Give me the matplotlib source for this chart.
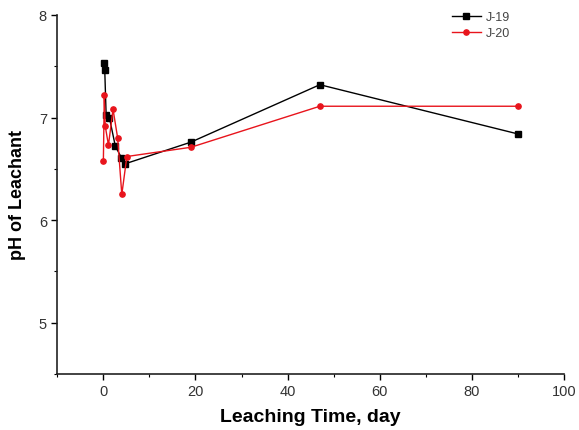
import numpy as np
import matplotlib.pyplot as plt
from matplotlib.ticker import MultipleLocator

plt.rcParams['font.family'] = ['Liberation Sans', 'DejaVu Sans']

# J-19 leachant pH
t_j19 = [0.1, 0.3, 0.6, 1.3, 2.6, 3.9, 4.8, 19, 47, 90]
ph_j19 = [7.53, 7.46, 7.02, 7.00, 6.72, 6.61, 6.55, 6.76, 7.32, 6.84]

# J-20 leachant pH
t_j20 = [0.0, 0.2, 0.4, 1.1, 2.1, 3.1, 4.0, 5.1, 19, 47, 90]
ph_j20 = [6.58, 7.22, 6.92, 6.73, 7.08, 6.80, 6.25, 6.62, 6.71, 7.11, 7.11]

fig = plt.figure(figsize=(5.79, 4.31), dpi=100)
ax = fig.add_axes([0.099, 0.130, 0.875, 0.833])

ax.plot(t_j19, ph_j19, color='black', marker='s', markersize=3.8, linewidth=1, label='J-19')
ax.plot(t_j20, ph_j20, color='#e8141c', marker='o', markersize=3.8, linewidth=1, label='J-20')

ax.set_xlim(-10, 100)
ax.set_ylim(4.5, 8)
ax.xaxis.set_major_locator(MultipleLocator(20))
ax.xaxis.set_minor_locator(MultipleLocator(10))
ax.yaxis.set_major_locator(MultipleLocator(1))
ax.yaxis.set_minor_locator(MultipleLocator(0.5))

for s in ['top', 'right']:
    ax.spines[s].set_visible(False)
for s in ['left', 'bottom']:
    ax.spines[s].set_linewidth(1.2)
    ax.spines[s].set_color('#222222')

ax.tick_params(axis='both', direction='out', length=4, width=1, labelsize=10.5, labelcolor='#333333')
ax.tick_params(which='minor', axis='both', direction='out', length=2, width=0.8)

ax.set_xlabel('Leaching Time, day', fontsize=14, fontweight='bold', labelpad=7)
ax.set_ylabel('pH of Leachant', fontsize=13, fontweight='bold', labelpad=9)

leg = ax.legend(loc='upper left', bbox_to_anchor=(0.757, 1.042), frameon=False, fontsize=9,
                handlelength=2.3, handletextpad=0.4, labelspacing=0.35)
for txt in leg.get_texts():
    txt.set_color('#444444')

plt.savefig('out.png', dpi=100)
